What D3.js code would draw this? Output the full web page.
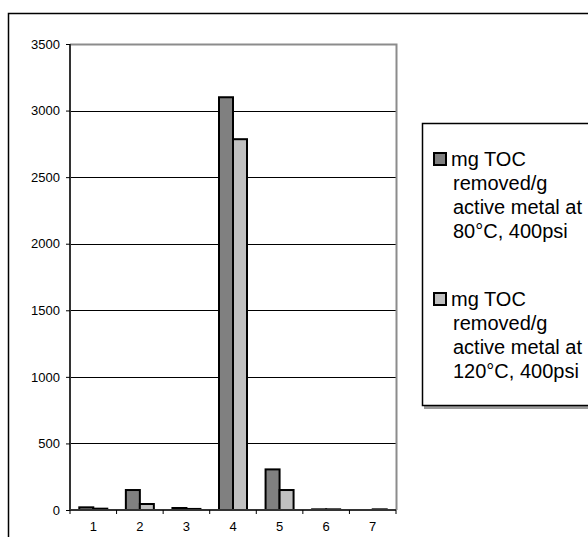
<!DOCTYPE html>
<html>
<head>
<meta charset="utf-8">
<script src="https://cdn.jsdelivr.net/npm/d3@7"></script>
<style>
  body { margin: 0; background: #fff; }
  svg { display: block; font-family: "Liberation Sans", Arial, sans-serif; }
</style>
</head>
<body>
<div id="chart"></div>
<script>
// data
const categories = ["1", "2", "3", "4", "5", "6", "7"];
const toc80 = [20, 150, 15, 3100, 305, 5, 0];
const toc120 = [10, 45, 8, 2785, 150, 5, 5];
const seriesNames = [
    ["mg TOC", "removed/g", "active metal at", "80°C, 400psi"],
    ["mg TOC", "removed/g", "active metal at", "120°C, 400psi"]
];
const seriesColors = ["#808080", "#c0c0c0"];
const yTicks = [0, 500, 1000, 1500, 2000, 2500, 3000, 3500];

const W = 588, H = 537;
const margin = {top: 44, right: 192, bottom: 27, left: 70};
const width = W - margin.left - margin.right;
const height = H - margin.top - margin.bottom;

const svg = d3.select("#chart").append("svg")
    .attr("width", W)
    .attr("height", H);

// outer chart frame (cut off at right/bottom)
svg.append("path")
    .attr("d", "M8.5," + (H + 5) + "V13.5H" + (W + 5))
    .attr("fill", "none")
    .attr("stroke", "#000")
    .attr("stroke-width", 1.5);

const g = svg.append("g")
    .attr("transform", "translate(" + margin.left + "," + margin.top + ")");

const x = d3.scaleBand().domain(categories).range([0, width]);
const x1 = d3.scaleBand().domain([0, 1]).range([0, 28]);
const y = d3.scaleLinear().domain([0, 3500]).range([height, 0]);

// gridlines
g.append("g")
    .selectAll("line")
    .data(yTicks.filter(d => d > 0 && d < 3500))
    .join("line")
    .attr("x1", 0).attr("x2", width)
    .attr("y1", d => Math.round(y(d)) + 0.5)
    .attr("y2", d => Math.round(y(d)) + 0.5)
    .attr("stroke", "#000")
    .attr("stroke-width", 1);

// plot area frame top/right (gray)
g.append("path")
    .attr("d", "M0,0.5H" + (width + 0.5) + "V" + height)
    .attr("fill", "none")
    .attr("stroke", "#8c8c8c")
    .attr("stroke-width", 2);

// bars
const groups = g.append("g")
    .selectAll("g")
    .data(categories)
    .join("g")
    .attr("transform", d => "translate(" + (x(d) + (x.bandwidth() - 28) / 2) + ",0)");

groups.selectAll("rect")
    .data((d, i) => [toc80[i], toc120[i]].map((v, k) => ({k: k, v: v})))
    .join("rect")
    .attr("x", d => x1(d.k))
    .attr("width", x1.bandwidth())
    .attr("y", d => y(d.v))
    .attr("height", d => height - y(d.v))
    .attr("fill", d => seriesColors[d.k])
    .attr("stroke", "#000")
    .attr("stroke-width", 2);

// axes
const yAxis = g.append("g")
    .call(d3.axisLeft(y).tickValues(yTicks).tickFormat(d3.format("d")).tickSize(4).tickPadding(6));
const xAxis = g.append("g")
    .attr("transform", "translate(0," + height + ")")
    .call(d3.axisBottom(x).tickSize(0).tickPadding(12));

[yAxis, xAxis].forEach(a => {
    a.select(".domain").attr("stroke", "#333").attr("stroke-width", 2);
    a.selectAll("text").attr("font-size", 13).attr("fill", "#000")
        .attr("font-family", "Liberation Sans, Arial, sans-serif");
    a.selectAll("line").attr("stroke", "#000");
});
yAxis.select(".domain").attr("d", "M0,0V" + height);
xAxis.select(".domain").attr("d", "M0,0H" + width);

// x ticks at band edges
xAxis.append("g")
    .selectAll("line")
    .data(d3.range(categories.length + 1))
    .join("line")
    .attr("x1", i => i * x.step())
    .attr("x2", i => i * x.step())
    .attr("y1", 0).attr("y2", 4)
    .attr("stroke", "#000");

// legend
const legend = svg.append("g");
legend.append("rect")
    .attr("x", 424).attr("y", 125)
    .attr("width", 200).attr("height", 284)
    .attr("fill", "#999");
legend.append("rect")
    .attr("x", 422.5).attr("y", 123.5)
    .attr("width", 200).attr("height", 282)
    .attr("fill", "#fff")
    .attr("stroke", "#000")
    .attr("stroke-width", 1.5);

seriesNames.forEach((lines, i) => {
    const top = 153 + i * 140;
    legend.append("rect")
        .attr("x", 434).attr("y", top)
        .attr("width", 12).attr("height", 12)
        .attr("fill", seriesColors[i])
        .attr("stroke", "#000")
        .attr("stroke-width", 2);
    legend.append("text")
        .attr("x", 451)
        .attr("font-size", 20)
        .selectAll("tspan")
        .data(lines)
        .join("tspan")
        .attr("x", (d, j) => j == 0 ? 451 : 453)
        .attr("y", (d, j) => top + 13 + j * 24)
        .text(d => d);
});
</script>
</body>
</html>
